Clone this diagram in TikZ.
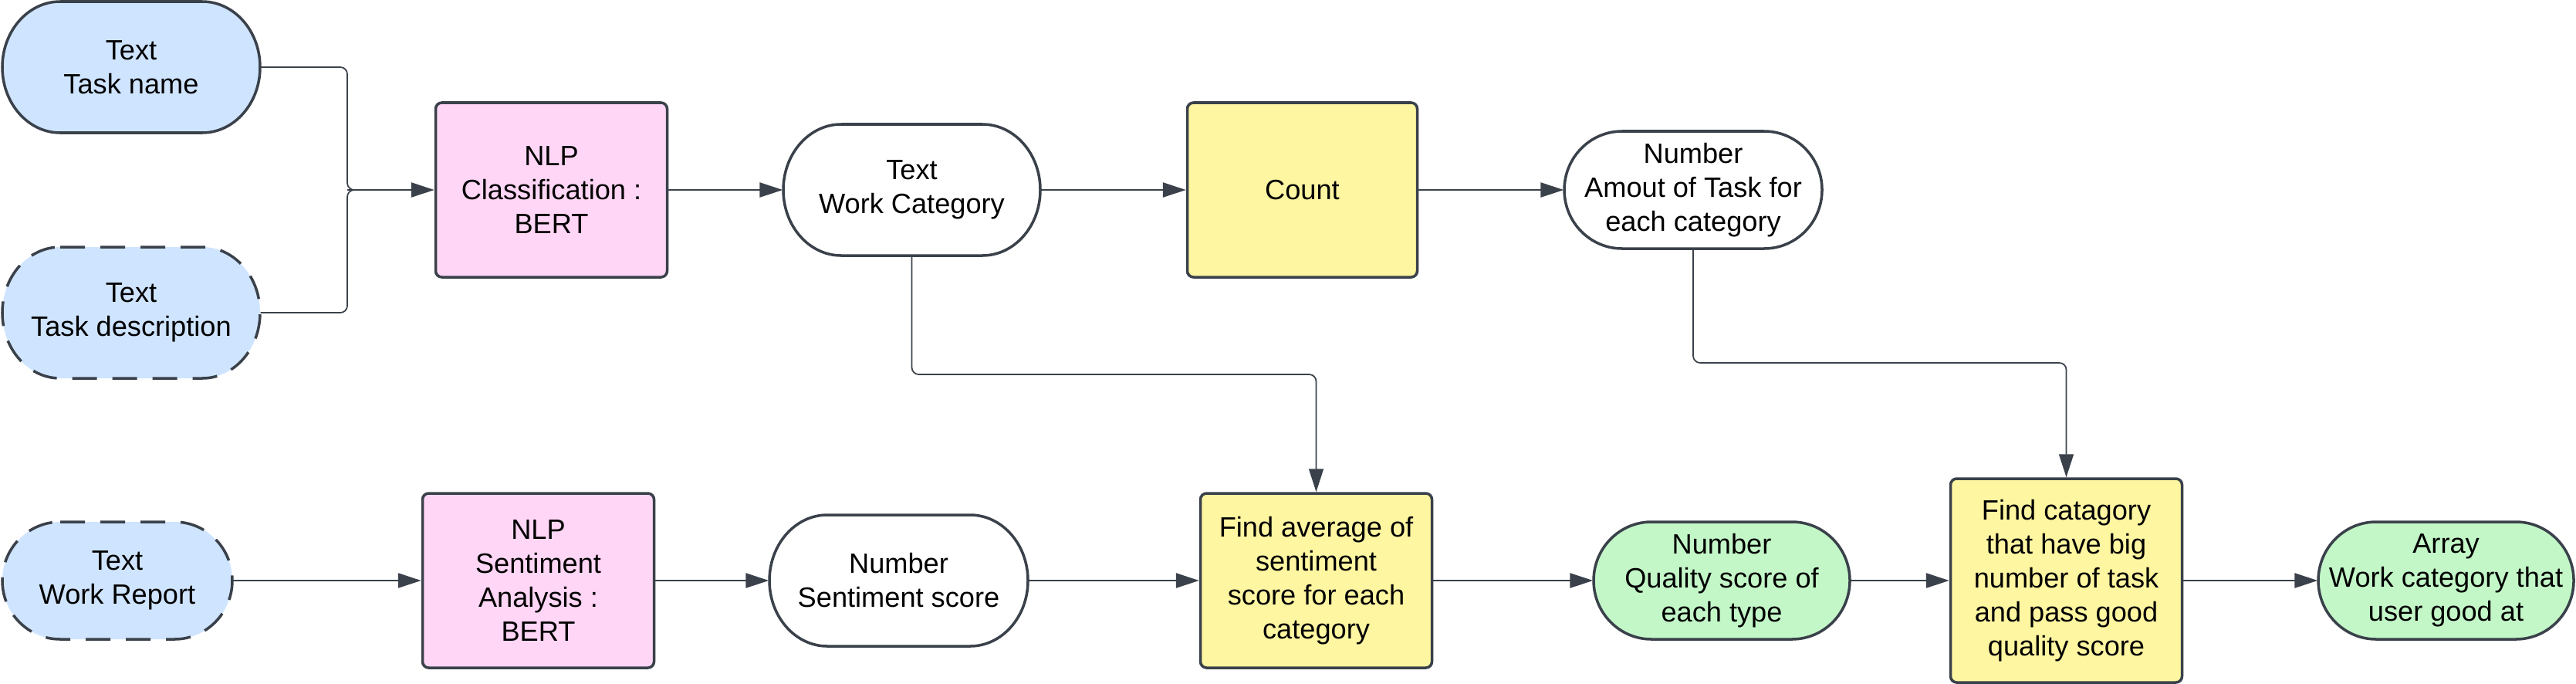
\documentclass[tikz,border=0pt]{standalone}
\usepackage{fontspec}
\setmainfont{Liberation Sans}
\usepackage{tikz}
\usetikzlibrary{calc,arrows.meta}

\definecolor{linegray}{HTML}{3A414A}
\definecolor{inblue}{HTML}{CFE4FF}
\definecolor{nlppink}{HTML}{FFD6F5}
\definecolor{stepyellow}{HTML}{FFF6A1}
\definecolor{outgreen}{HTML}{C3F7C8}

\tikzset{
  shapeline/.style={draw=linegray, line width=1pt},
  procbox/.style={shapeline, rounded corners=0.08cm, inner sep=0pt, align=center,
    font=\fontsize{10.3}{12.5}\selectfont},
  termtext/.style={inner sep=0pt, align=center, font=\fontsize{10.3}{12.5}\selectfont},
  dashline/.style={dash pattern=on 0.32cm off 0.2cm},
  arrow/.style={draw=linegray, line width=0.7pt, -{Triangle[length=0.3cm,width=0.19cm]}},
  conn/.style={draw=linegray, line width=0.5pt, rounded corners=0.09cm},
}

% terminator outline: [style](centre)(half width:half height)
\def\termshape[#1](#2)(#3:#4){\draw[shapeline,#1] ($(#2)+(-#3+0.75,#4)$) -- ($(#2)+(#3-0.75,#4)$) arc[start angle=90,end angle=-90,x radius=0.75,y radius=#4] -- ($(#2)+(-#3+0.75,-#4)$) arc[start angle=270,end angle=90,x radius=0.75,y radius=#4] -- cycle;}

\begin{document}
\begin{tikzpicture}
			%%%%% START %%%%%
			\useasboundingbox (0,0) rectangle (33.38,8.85);
			
			% top row
			\termshape[fill=inblue](1.70,7.98)(1.67:0.85);
			\node[termtext, minimum width=3.34cm, minimum height=1.7cm] (tname) at (1.70,7.98) {Text\\Task name};
			
			\termshape[fill=inblue,dashline](1.70,4.80)(1.67:0.85);
			\node[termtext, minimum width=3.34cm, minimum height=1.7cm] (tdesc) at (1.70,4.80) {Text\\Task description};
			
			\node[procbox, fill=nlppink, minimum width=3cm, minimum height=2.26cm] (nlpc) at (7.145,6.39) {NLP\\Classification :\\BERT};
			
			\termshape[fill=white](11.815,6.39)(1.665:0.85);
			\node[termtext, minimum width=3.33cm, minimum height=1.7cm] (wcat) at (11.815,6.39) {Text\\Work Category};
			
			\node[procbox, fill=stepyellow, minimum width=2.98cm, minimum height=2.26cm] (count) at (16.875,6.39) {Count};
			
			\termshape[fill=white](21.94,6.39)(1.67:0.76);
			\node[termtext, minimum width=3.34cm, minimum height=1.52cm] (amount) at (21.94,6.39) {Number\\Amout of Task for\\each category};
			
			% bottom row
			\termshape[fill=inblue,dashline](1.52,1.33)(1.49:0.76);
			\node[termtext, minimum width=2.98cm, minimum height=1.52cm] (report) at (1.52,1.33) {Text\\Work Report};
			
			\node[procbox, fill=nlppink, minimum width=3cm, minimum height=2.26cm] (nlps) at (6.975,1.33) {NLP\\Sentiment\\Analysis :\\BERT};
			
			\termshape[fill=white](11.645,1.33)(1.675:0.85);
			\node[termtext, minimum width=3.35cm, minimum height=1.7cm] (sscore) at (11.645,1.33) {Number\\Sentiment score};
			
			\node[procbox, fill=stepyellow, minimum width=3cm, minimum height=2.26cm] (favg) at (17.055,1.33) {Find average of\\sentiment\\score for each\\category};
			
			\termshape[fill=outgreen](22.31,1.33)(1.66:0.76);
			\node[termtext, minimum width=3.32cm, minimum height=1.52cm] (qscore) at (22.31,1.33) {Number\\Quality score of\\each type};
			
			\node[procbox, fill=stepyellow, minimum width=3cm, minimum height=2.64cm] (fcat) at (26.775,1.33) {Find catagory\\that have big\\number of task\\and pass good\\quality score};
			
			\termshape[fill=outgreen](31.695,1.33)(1.655:0.76);
			\node[termtext, minimum width=3.31cm, minimum height=1.52cm] (array) at (31.695,1.33) {Array\\Work category that\\user good at};
			
			% connectors
			\coordinate (merge) at (4.50,6.39);
			\coordinate (wjoin) at (11.815,4.00);
			\coordinate (ajoin) at (21.94,4.15);
			
			\draw[conn] (tname.east) -| (merge) -- ++(0.12,0);
			\draw[conn] (tdesc.east) -| (merge) -- ++(0.12,0);
			\draw[arrow] (merge) -- (nlpc.west);
			
			\draw[arrow] (nlpc.east) -- (wcat.west);
			\draw[arrow] (wcat.east) -- (count.west);
			\draw[arrow] (count.east) -- (amount.west);
			
			\draw[arrow] (report.east) -- (nlps.west);
			\draw[arrow] (nlps.east) -- (sscore.west);
			\draw[arrow] (sscore.east) -- (favg.west);
			\draw[arrow] (favg.east) -- (qscore.west);
			\draw[arrow] (qscore.east) -- (fcat.west);
			\draw[arrow] (fcat.east) -- (array.west);
			
			\draw[conn, arrow, line width=0.5pt] (wcat.south) -- (wjoin) -| (favg.north);
			\draw[conn, arrow, line width=0.5pt] (amount.south) -- (ajoin) -| (fcat.north);
			
			%%%%% END %%%%%
\end{tikzpicture}
\end{document}
